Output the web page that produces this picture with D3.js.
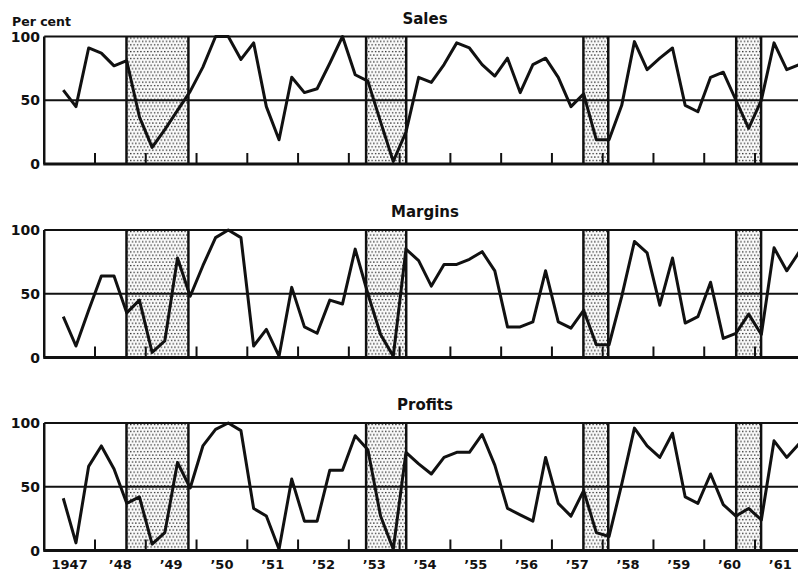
<!DOCTYPE html>
<html>
<head>
<meta charset="utf-8">
<script src="https://cdn.jsdelivr.net/npm/d3@7"></script>
<style>
  body { margin: 0; background: #fff; }
  svg { display: block; }
  text { font-family: "DejaVu Sans", sans-serif; font-weight: bold; fill: #111; }
</style>
</head>
<body>
<svg width="798" height="572"></svg>
<script>
// quarterly readings, per cent of cycle range, 1947 Q2 .. 1961 Q4
var sales = [58, 45, 91, 87, 77, 81, 37, 13, 27, 42, 57, 76, 100, 100, 82, 95, 45, 19, 68, 56,
             59, 79, 100, 70, 65, 33, 2, 25, 68, 64, 78, 95, 91, 78, 69, 83, 56, 78, 83, 68,
             45, 55, 19, 19, 46, 96, 74, 83, 91, 46, 41, 68, 72, 50, 28, 50, 95, 74, 78];
var margins = [32, 9, 37, 64, 64, 35, 45, 4, 13, 78, 48, 72, 94, 100, 94, 9, 22, 1, 55, 24,
               19, 45, 42, 85, 50, 18, 1, 85, 76, 56, 73, 73, 77, 83, 68, 24, 24, 28, 68, 28,
               23, 37, 10, 10, 48, 91, 82, 41, 78, 27, 32, 59, 15, 19, 34, 18, 86, 68, 83];
var profits = [41, 6, 66, 82, 64, 37, 42, 5, 14, 69, 49, 82, 95, 100, 94, 33, 27, 1, 56, 23,
               23, 63, 63, 90, 79, 27, 1, 77, 68, 60, 73, 77, 77, 91, 67, 33, 28, 23, 73, 37,
               27, 47, 14, 11, 52, 96, 82, 73, 92, 42, 37, 60, 36, 27, 33, 24, 86, 73, 84];
var recessions = [[1948.62, 1949.84], [1953.34, 1954.13], [1957.62, 1958.11], [1960.63, 1961.12]];
var yearLabels = ["1947", "\u201948", "\u201949", "\u201950", "\u201951", "\u201952", "\u201953",
                  "\u201954", "\u201955", "\u201956", "\u201957", "\u201958", "\u201959", "\u201960", "\u201961"];
var yTicks = [0, 50, 100];
var firstYear = 1947;
var firstQuarter = 1; // zero based, Q2

var svg = d3.select("svg");
var width = +svg.attr("width");
var x = d3.scaleLinear().domain([1948, 1961]).range([95, 755]);
var quarters = sales.map(function (_, i) { return firstYear + (firstQuarter + i + 0.5) / 4; });
var panelH = 127.5;

// stipple for the shaded periods
var defs = svg.append("defs");
var pat = defs.append("pattern").attr("id", "dots")
    .attr("patternUnits", "userSpaceOnUse").attr("width", 3.4).attr("height", 6.8);
pat.append("rect").attr("width", 3.4).attr("height", 6.8).attr("fill", "#fafafa");
pat.append("rect").attr("x", 0.9).attr("y", 0.9).attr("width", 1.3).attr("height", 1.3).attr("fill", "#222");
pat.append("rect").attr("x", 2.6).attr("y", 4.3).attr("width", 1.3).attr("height", 1.3).attr("fill", "#222");
pat.append("rect").attr("x", -0.8).attr("y", 4.3).attr("width", 1.3).attr("height", 1.3).attr("fill", "#222");

var panels = [
    { title: "Sales", values: sales, top: 36.5 },
    { title: "Margins", values: margins, top: 230 },
    { title: "Profits", values: profits, top: 423 }
];

var left = x(firstYear);

panels.forEach(function (p, pi) {
    var g = svg.append("g").attr("transform", "translate(0," + p.top + ")");
    var y = d3.scaleLinear().domain([0, 100]).range([panelH, 0]);

    // recession shading
    var band = g.selectAll(".band").data(recessions).enter().append("g").attr("class", "band");
    band.append("rect")
        .attr("x", function (d) { return x(d[0]); })
        .attr("width", function (d) { return x(d[1]) - x(d[0]); })
        .attr("y", 0).attr("height", panelH)
        .attr("fill", "url(#dots)");
    band.selectAll("line").data(function (d) { return d; }).enter().append("line")
        .attr("x1", function (d) { return x(d); }).attr("x2", function (d) { return x(d); })
        .attr("y1", 0).attr("y2", panelH)
        .attr("stroke", "#111").attr("stroke-width", 2.5);

    // frame
    g.append("line").attr("x1", left).attr("x2", width).attr("y1", 0).attr("y2", 0)
        .attr("stroke", "#111").attr("stroke-width", 2.2);
    g.append("line").attr("x1", left).attr("x2", left).attr("y1", 0).attr("y2", panelH)
        .attr("stroke", "#111").attr("stroke-width", 2.5);
    g.append("line").attr("x1", left).attr("x2", width).attr("y1", y(50)).attr("y2", y(50))
        .attr("stroke", "#111").attr("stroke-width", 2);

    // year ticks on bottom edge
    g.selectAll(".tick").data(d3.range(1948, 1962)).enter().append("line")
        .attr("x1", function (d) { return x(d); }).attr("x2", function (d) { return x(d); })
        .attr("y1", panelH).attr("y2", panelH - 11)
        .attr("stroke", "#111").attr("stroke-width", 2);
    g.append("line").attr("x1", left - 1).attr("x2", width).attr("y1", panelH).attr("y2", panelH)
        .attr("stroke", "#111").attr("stroke-width", 3);

    // y labels
    g.selectAll(".ylab").data(yTicks).enter().append("text")
        .attr("x", 40).attr("y", function (d) { return y(d); })
        .attr("dy", "0.36em").attr("text-anchor", "end")
        .style("font-size", "14px")
        .text(function (d) { return d; });

    // series
    var line = d3.line()
        .x(function (d, i) { return x(quarters[i]); })
        .y(function (d) { return y(d); });
    g.append("path").datum(p.values)
        .attr("d", line)
        .attr("fill", "none").attr("stroke", "#111")
        .attr("stroke-width", 3).attr("stroke-linejoin", "round");

    g.append("text").attr("x", 425).attr("y", -13)
        .attr("text-anchor", "middle").style("font-size", "15px")
        .text(p.title);

    if (pi === 0) {
        g.append("text").attr("x", 12).attr("y", -11)
            .style("font-size", "12.5px").text("Per cent");
    }
    if (pi === panels.length - 1) {
        g.selectAll(".xlab").data(yearLabels).enter().append("text")
            .attr("x", function (d, i) { return x(firstYear + i + 0.5); })
            .attr("y", panelH + 18)
            .attr("text-anchor", "middle").style("font-size", "13px")
            .text(function (d) { return d; });
    }
});
</script>
</body>
</html>
